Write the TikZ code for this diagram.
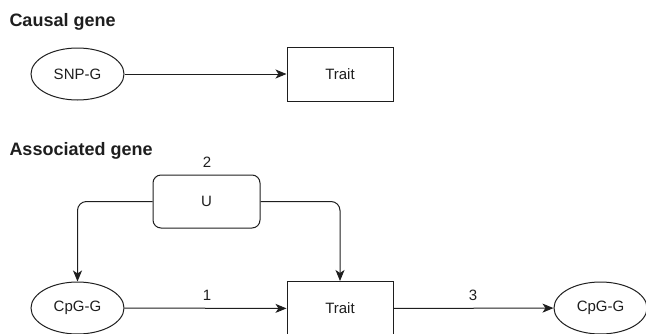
\documentclass[tikz,border=0pt]{standalone}
\usepackage{fontspec}
\setmainfont{Liberation Sans}
\usetikzlibrary{arrows.meta,shapes.geometric}
\definecolor{ink}{HTML}{1E1E1E}
\begin{document}
\begin{tikzpicture}[x=1pt,y=-1pt,
  line width=1pt, draw=ink,
  every node/.style={font=\fontsize{15}{18}\selectfont, inner sep=0pt, text=ink},
  ell/.style={draw=ink, ellipse, minimum width=93pt, minimum height=52pt},
  boxnode/.style={draw=ink, rectangle, minimum width=106pt, minimum height=54pt},
  ubox/.style={draw=ink, rectangle, rounded corners=8pt, minimum width=107pt, minimum height=53pt},
  title/.style={font=\fontsize{18}{21}\selectfont\bfseries, anchor=base west},
  lbl/.style={font=\fontsize{15}{18}\selectfont},
  arr/.style={draw=ink, -{Stealth[length=11pt,width=9pt,inset=3pt]}, line width=1pt}
]
\useasboundingbox (0,0) rectangle (646,333);
\node[title] (t1) at (9,26) {Causal gene};
\node[ell] (snp) at (77.5,74) {SNP-G};
\node[boxnode] (trait1) at (340,74) {Trait};
\draw[arr] (snp) -- (trait1);

\node[title] (t2) at (9,155) {Associated gene};
\node[ubox] (u) at (206.5,201.5) {U};
\node[lbl] (l2) at (207,162) {2};
\node[ell] (cpg1) at (77.5,308) {CpG-G};
\node[boxnode] (trait2) at (340,308.5) {Trait};
\node[ell] (cpg2) at (600.5,308) {CpG-G};
\node[lbl] (l1) at (207,295) {1};
\node[lbl] (l3) at (473,295) {3};
\draw[arr, rounded corners=9pt] (u.west) -| (cpg1.north);
\draw[arr, rounded corners=9pt] (u.east) -| (trait2.north);
\draw[arr] (cpg1) -- (trait2);
\draw[arr] (trait2) -- (cpg2);
\end{tikzpicture}
\end{document}
